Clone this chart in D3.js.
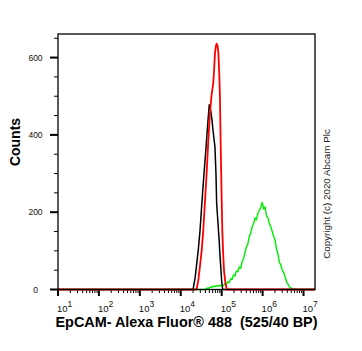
<!DOCTYPE html>
<html><head><meta charset="utf-8">
<script src="https://cdn.jsdelivr.net/npm/d3@7"></script>
<style>
html,body{margin:0;padding:0;background:#fff;}
svg{display:block;font-family:"Liberation Sans",Arial,sans-serif;}
</style></head>
<body>
<svg id="chart" width="362" height="351"></svg>
<script>
// ---- data (x as log10 fluorescence intensity, y as counts) ----
const xDecades = [1, 2, 3, 4, 5, 6, 7];
const yMajorTicks = [0, 200, 400, 600];
const yMinorTicks = [50, 100, 150, 250, 300, 350, 450, 500, 550, 650];

const blackLog = [1.0, 4.30, 4.35, 4.39, 4.43, 4.47, 4.51, 4.55, 4.59, 4.63, 4.66, 4.696, 4.72, 4.755, 4.79, 4.836, 4.86, 4.877, 4.91, 4.934, 4.96, 4.983, 5.00, 5.025, 7.28];
const blackCounts = [0, 0, 30, 67, 105, 152, 215, 275, 330, 386, 430, 478, 470, 446, 410, 368, 300, 223, 170, 134, 85, 49, 20, 0, 0];

const redLog = [1.0, 4.387, 4.43, 4.468, 4.51, 4.549, 4.59, 4.632, 4.67, 4.713, 4.75, 4.794, 4.81, 4.836, 4.86, 4.877, 4.90, 4.917, 4.94, 4.958, 4.97, 4.983, 5.00, 5.015, 5.035, 5.056, 5.09, 5.123, 7.28];
const redCounts = [0, 0, 25, 59, 100, 152, 225, 300, 380, 456, 500, 534, 560, 612, 630, 636, 630, 615, 560, 495, 410, 326, 230, 152, 95, 49, 18, 0, 0];

const greenLog = [1.0, 4.59, 4.625, 4.66, 4.695, 4.73, 4.765, 4.80, 4.835, 4.87, 4.905, 4.94, 4.975, 5.01, 5.045, 5.08, 5.115, 5.15, 5.185, 5.22, 5.255, 5.29, 5.325, 5.36, 5.395, 5.43, 5.465, 5.50, 5.535, 5.57, 5.605, 5.64, 5.675, 5.71, 5.745, 5.78, 5.815, 5.85, 5.885, 5.92, 5.955, 5.99, 6.025, 6.06, 6.095, 6.13, 6.165, 6.20, 6.235, 6.27, 6.305, 6.34, 6.375, 6.41, 6.445, 6.48, 6.515, 6.55, 6.585, 6.62, 6.655, 6.69, 6.725, 6.76, 6.795, 7.28];
const greenCounts = [0, 0, 2, 4, 3, 7, 6, 9, 7, 10, 8, 11, 9, 12, 10, 15, 13, 20, 18, 28, 26, 38, 35, 48, 46, 58, 55, 72, 80, 96, 110, 118, 138, 145, 163, 170, 185, 180, 198, 205, 212, 225, 208, 214, 190, 186, 170, 162, 150, 138, 128, 104, 92, 70, 64, 50, 44, 33, 20, 14, 7, 4, 2, 1, 0, 0];

const xTitle = "EpCAM- Alexa Fluor\u00AE 488  (525/40 BP)";
const yTitle = "Counts";
const copyright = "Copyright (c) 2020 Abcam Plc";

// ---- layout ----
const L = 58, R = 315, T = 34, B = 289.5;
const svg = d3.select("#chart");

const x = d3.scaleLog().domain([10, Math.pow(10, 7.28)]).range([L, R]);
const y = d3.scaleLinear().domain([0, 661]).range([B, T]);

// minor log ticks
const minorX = [];
for (let d = 1; d < 7; d++) for (let m = 2; m <= 9; m++) minorX.push(m * Math.pow(10, d));
for (let m = 2; m <= 9; m++) { const v = m * 1e7; if (v <= x.domain()[1]) minorX.push(v); }

const axisG = svg.append("g");
axisG.selectAll(".xmin").data(minorX).enter().append("line")
  .attr("x1", d => x(d)).attr("x2", d => x(d))
  .attr("y1", B).attr("y2", B + 3.5)
  .attr("stroke", "#000").attr("stroke-width", 1);
axisG.selectAll(".xmaj").data(xDecades).enter().append("line")
  .attr("x1", d => x(Math.pow(10, d))).attr("x2", d => x(Math.pow(10, d)))
  .attr("y1", B).attr("y2", B + 6.5)
  .attr("stroke", "#000").attr("stroke-width", 2);
const xl = axisG.selectAll(".xl").data(xDecades).enter().append("text")
  .attr("x", d => x(Math.pow(10, d)) - 1).attr("y", 312)
  .attr("font-size", 9.5).attr("fill", "#111");
xl.append("tspan").text("10");
xl.append("tspan").attr("dy", -5).attr("font-size", 8.5).text(d => d);

axisG.selectAll(".ymin").data(yMinorTicks).enter().append("line")
  .attr("x1", L - 4).attr("x2", L)
  .attr("y1", d => y(d)).attr("y2", d => y(d))
  .attr("stroke", "#000").attr("stroke-width", 1);
axisG.selectAll(".ymaj").data(yMajorTicks).enter().append("line")
  .attr("x1", L - 8).attr("x2", L)
  .attr("y1", d => y(d)).attr("y2", d => y(d))
  .attr("stroke", "#000").attr("stroke-width", 2);
axisG.selectAll(".yl").data(yMajorTicks).enter().append("text")
  .attr("x", 35.5).attr("y", d => y(d) + 3)
  .attr("text-anchor", "middle")
  .attr("font-size", 8.5).attr("fill", "#111")
  .text(d => d);

// ---- series ----
const line = d3.line().x(d => x(Math.pow(10, d[0]))).y(d => y(d[1]));
const series = [
  {xs: greenLog, ys: greenCounts, color: "#00ee00", w: 1.4},
  {xs: blackLog, ys: blackCounts, color: "#000000", w: 1.5},
  {xs: redLog, ys: redCounts, color: "#ff0000", w: 1.8}
];
svg.append("g").selectAll("path").data(series).enter().append("path")
  .attr("d", s => line(s.xs.map((v, i) => [v, s.ys[i]])))
  .attr("fill", "none")
  .attr("stroke", s => s.color)
  .attr("stroke-width", s => s.w)
  .attr("stroke-linejoin", "round");

svg.append("rect").attr("x", L).attr("y", T).attr("width", R - L).attr("height", B - T)
  .attr("fill", "none").attr("stroke", "#000").attr("stroke-width", 1.3);

svg.append("text").attr("x", 186.5).attr("y", 327).attr("text-anchor", "middle")
  .attr("font-size", 14.4).attr("font-weight", "bold").style("white-space", "pre")
  .text(xTitle);
svg.append("text").attr("transform", "translate(20,142) rotate(-90)")
  .attr("text-anchor", "middle").attr("font-size", 14).attr("font-weight", "bold")
  .text(yTitle);
svg.append("text").attr("transform", "translate(330,194) rotate(-90)")
  .attr("text-anchor", "middle").attr("font-size", 9.8).attr("fill", "#222")
  .text(copyright);
</script>
</body></html>
